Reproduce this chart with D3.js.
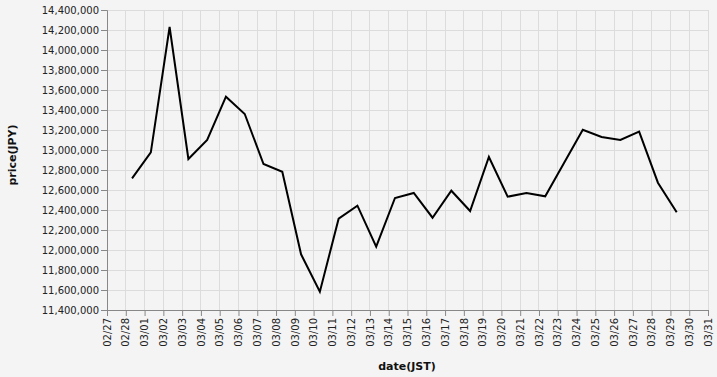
<!DOCTYPE html>
<html>
<head>
<meta charset="utf-8">
<script src="https://cdn.jsdelivr.net/npm/d3@7"></script>
<style>
  html, body { margin: 0; padding: 0; background: #f4f4f4; }
  svg { display: block; font-family: "DejaVu Sans", sans-serif; }
</style>
</head>
<body>
<svg id="chart" width="717" height="377"></svg>
<script>
// ---- data ----
const dates = [
  "2023-02-28","2023-03-01","2023-03-02","2023-03-03","2023-03-04","2023-03-05",
  "2023-03-06","2023-03-07","2023-03-08","2023-03-09","2023-03-10","2023-03-11",
  "2023-03-12","2023-03-13","2023-03-14","2023-03-15","2023-03-16","2023-03-17",
  "2023-03-18","2023-03-19","2023-03-20","2023-03-21","2023-03-22","2023-03-23",
  "2023-03-24","2023-03-25","2023-03-26","2023-03-27","2023-03-28","2023-03-29"
];
const prices = [
  12717000, 12977000, 14230000, 12910000, 13100000, 13533000,
  13360000, 12860000, 12783000, 11957000, 11583000, 12313000,
  12443000, 12033000, 12520000, 12570000, 12323000, 12593000,
  12390000, 12930000, 12533000, 12570000, 12537000, 12870000,
  13203000, 13130000, 13100000, 13183000, 12673000, 12377000
];
const xDomain = ["2023-02-27", "2023-03-31"];
const yTicks = [11400000, 11600000, 11800000, 12000000, 12200000, 12400000,
  12600000, 12800000, 13000000, 13200000, 13400000, 13600000, 13800000,
  14000000, 14200000, 14400000];
const yLabel = "price(JPY)";
const xLabel = "date(JST)";

// ---- layout ----
const margin = { left: 107, right: 9, top: 10, bottom: 67 };
const W = 717, H = 377;
const iw = W - margin.left - margin.right;
const ih = H - margin.top - margin.bottom;

const svg = d3.select("#chart");
svg.append("rect").attr("width", W).attr("height", H).attr("fill", "#f4f4f4");
const g = svg.append("g").attr("transform", `translate(${margin.left},${margin.top})`);

const parse = s => new Date(s + "T00:00:00Z");
const x = d3.scaleUtc().domain(xDomain.map(parse)).range([0, iw]);
const y = d3.scaleLinear().domain([11400000, 14400000]).range([ih, 0]);

const dayTicks = d3.utcDay.range(parse(xDomain[0]), d3.utcDay.offset(parse(xDomain[1]), 1));
const fmt = d3.utcFormat("%m/%d");

// grid
g.append("g").selectAll("line").data(yTicks).join("line")
  .attr("x1", 0).attr("x2", iw)
  .attr("y1", d => y(d)).attr("y2", d => y(d))
  .attr("stroke", "#dcdcdc").attr("stroke-width", 1).attr("shape-rendering", "crispEdges");
g.append("g").selectAll("line").data(dayTicks).join("line")
  .attr("y1", 0).attr("y2", ih)
  .attr("x1", d => x(d)).attr("x2", d => x(d))
  .attr("stroke", "#dcdcdc").attr("stroke-width", 1).attr("shape-rendering", "crispEdges");

// axes
const yAxis = g.append("g")
  .call(d3.axisLeft(y).tickValues(yTicks).tickFormat(d3.format(",")).tickSize(6).tickPadding(2));
const xAxis = g.append("g").attr("transform", `translate(0,${ih})`)
  .call(d3.axisBottom(x).tickValues(dayTicks).tickFormat(fmt).tickSize(6).tickPadding(2));

[yAxis, xAxis].forEach(a => {
  a.select(".domain").attr("stroke", "#888");
  a.selectAll(".tick line").attr("stroke", "#888");
  a.selectAll("text").attr("fill", "#222").attr("font-size", 10)
    .attr("font-family", "DejaVu Sans, sans-serif");
});
xAxis.selectAll("text")
  .attr("transform", "rotate(-90)")
  .attr("text-anchor", "end")
  .attr("x", -8).attr("y", 0).attr("dy", "0.32em");

// line
const pts = dates.map((d, i) => ({ t: d3.utcHour.offset(parse(d), 8), v: prices[i] }));
g.append("path").datum(pts)
  .attr("fill", "none").attr("stroke", "#000").attr("stroke-width", 2)
  .attr("stroke-linejoin", "miter")
  .attr("d", d3.line().x(d => x(d.t)).y(d => y(d.v)));

// labels
svg.append("text").attr("x", 407).attr("y", 370).attr("text-anchor", "middle")
  .attr("font-weight", "bold").attr("font-size", 11).attr("fill", "#111").text(xLabel);
svg.append("text").attr("transform", "translate(16,155) rotate(-90)").attr("text-anchor", "middle")
  .attr("font-weight", "bold").attr("font-size", 11).attr("fill", "#111").text(yLabel);
</script>
</body>
</html>
